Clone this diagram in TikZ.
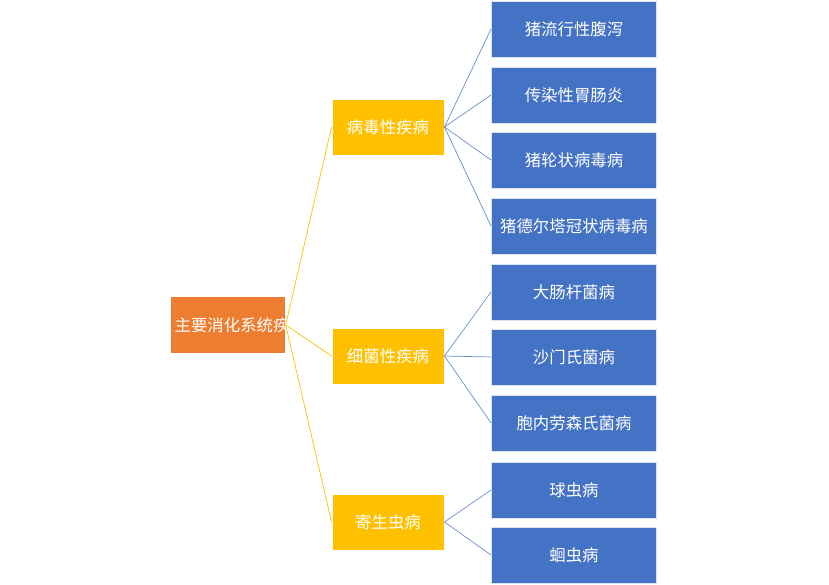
\documentclass[tikz,border=0pt]{standalone}
\usepackage{fontspec}
\setmainfont{Noto Sans CJK SC}
\usetikzlibrary{positioning}
\definecolor{rootorange}{HTML}{ED7D31}
\definecolor{midyellow}{HTML}{FFC000}
\definecolor{leafblue}{HTML}{4472C4}
\tikzset{
  rootbox/.style={fill=rootorange, draw=white, line width=0.8pt, text=white, minimum width=3.39cm, minimum height=1.71cm, text width=3.2cm, align=center, font=\fontsize{14}{20}\selectfont},
  midbox/.style={fill=midyellow, draw=white, line width=0.8pt, text=white, minimum width=3.36cm, minimum height=1.68cm, align=center, font=\fontsize{14}{20}\selectfont},
  leafbox/.style={fill=leafblue, draw=white!80!leafblue, line width=0.8pt, text=white, minimum width=4.95cm, minimum height=1.68cm, text width=4.7cm, align=center, font=\fontsize{14}{18}\selectfont},
  midline/.style={draw=midyellow, line width=0.6pt},
  leafline/.style={draw=leafblue!80, line width=0.6pt}
}
\begin{document}
\begin{tikzpicture}[x=0.03cm, y=-0.03cm]
  \useasboundingbox (0,0) rectangle (829,585);
  % root
  \node[rootbox] (root) at (228,325) {主要消化系统疾病};
  % middle level
  \node[midbox] (virus) at (388,127) {病毒性疾病};
  \node[midbox] (bact) at (388,356) {细菌性疾病};
  \node[midbox] (para) at (388,522) {寄生虫病};
  % leaves
  \node[leafbox] (l1) at (574,29) {猪流行性腹泻};
  \node[leafbox] (l2) at (574,95) {传染性胃肠炎};
  \node[leafbox] (l3) at (574,160) {猪轮状病毒病};
  \node[leafbox] (l4) at (574,226) {猪德尔塔冠状病毒病};
  \node[leafbox] (l5) at (574,292) {大肠杆菌病};
  \node[leafbox] (l6) at (574,357) {沙门氏菌病};
  \node[leafbox] (l7) at (574,423) {胞内劳森氏菌病};
  \node[leafbox] (l8) at (574,490) {球虫病};
  \node[leafbox] (l9) at (574,555) {蛔虫病};
  % connectors
  \foreach \m in {virus,bact,para}
    \draw[midline] (root.east) -- (\m.west);
  \foreach \l in {l1,l2,l3,l4}
    \draw[leafline] (virus.east) -- (\l.west);
  \foreach \l in {l5,l6,l7}
    \draw[leafline] (bact.east) -- (\l.west);
  \foreach \l in {l8,l9}
    \draw[leafline] (para.east) -- (\l.west);
\end{tikzpicture}
\end{document}
